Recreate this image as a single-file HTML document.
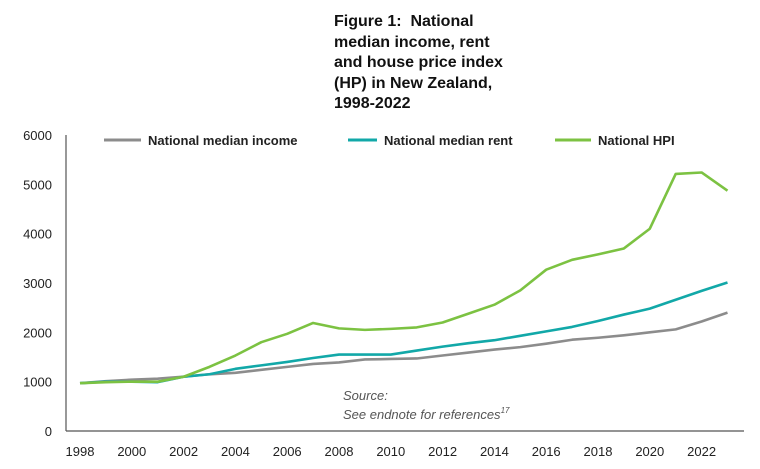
<!DOCTYPE html>
<html><head><meta charset="utf-8"><style>
body{margin:0;background:#fff;width:760px;height:469px;overflow:hidden;font-family:"Liberation Sans",sans-serif}
#title{position:absolute;left:334px;top:12px;width:220px;font-weight:bold;font-size:16px;line-height:20.5px;color:#111;white-space:nowrap}
</style></head><body>
<div id="title">Figure 1:&nbsp; National<br>median income, rent<br>and house price index<br>(HP) in New Zealand,<br>1998-2022</div>
<svg id="chart" width="760" height="469" style="position:absolute;left:0;top:0"></svg>
<script>
const years=[1998,1999,2000,2001,2002,2003,2004,2005,2006,2007,2008,2009,2010,2011,2012,2013,2014,2015,2016,2017,2018,2019,2020,2021,2022,2023];
const hpi=[970,990,1000,1000,1100,1300,1530,1800,1970,2190,2080,2050,2070,2100,2200,2380,2560,2850,3270,3470,3580,3700,4100,5210,5240,4870];
const rent=[970,1000,1000,990,1100,1150,1260,1330,1400,1480,1550,1550,1550,1630,1710,1780,1840,1930,2020,2110,2230,2360,2480,2660,2840,3010];
const income=[970,1010,1040,1060,1100,1150,1180,1240,1300,1360,1390,1450,1460,1470,1530,1590,1650,1700,1770,1850,1890,1940,2000,2060,2220,2400];
const yTicks=[0,1000,2000,3000,4000,5000,6000];
const xTicks=[1998,2000,2002,2004,2006,2008,2010,2012,2014,2016,2018,2020,2022];
const NS='http://www.w3.org/2000/svg';
const svg=document.getElementById('chart');
const X=v=>80+(v-1998)*25.9;
const Y=v=>431-v*296/6000;
function mk(t,a){const e=document.createElementNS(NS,t);for(const k in a)e.setAttribute(k,a[k]);svg.appendChild(e);return e;}
let ax=mk('line',{x1:66,y1:135,x2:66,y2:431,stroke:'#555','stroke-width':1.2});


ax=mk('line',{x1:66,y1:431,x2:744,y2:431,stroke:'#555','stroke-width':1.2});


yTicks.forEach(v=>{const t=mk('text',{x:52,y:Y(v)+5,'text-anchor':'end','font-size':13,fill:'#222'});t.textContent=v;

});
xTicks.forEach(v=>{const t=mk('text',{x:X(v),y:456,'text-anchor':'middle','font-size':13,fill:'#222'});t.textContent=v;

});
const series=[[income,'#8c8c8c','income-line'],[rent,'#12a8a8','rent-line'],[hpi,'#7cc242','hpi-line']];
series.forEach(([d,c,n])=>{const p=mk('polyline',{points:d.map((v,i)=>X(years[i])+','+Y(v)).join(' '),fill:'none',stroke:c,'stroke-width':2.6,'stroke-linejoin':'round'});

});
const leg=[['National median income','#8c8c8c',104,148],['National median rent','#12a8a8',348,384],['National HPI','#7cc242',555,598]];
leg.forEach(([l,c,x1,tx])=>{const g=mk('g',{});


const ln=document.createElementNS(NS,'line');ln.setAttribute('x1',x1);ln.setAttribute('x2',tx-7);ln.setAttribute('y1',140);ln.setAttribute('y2',140);ln.setAttribute('stroke',c);ln.setAttribute('stroke-width',3);g.appendChild(ln);
const t=document.createElementNS(NS,'text');t.setAttribute('x',tx);t.setAttribute('y',145);t.setAttribute('font-size',13);t.setAttribute('font-weight','bold');t.setAttribute('fill','#222');t.textContent=l;g.appendChild(t);});
const s1=mk('text',{x:343,y:400,'font-size':13,'font-style':'italic',fill:'#555'});s1.textContent='Source:';


const s2=mk('text',{x:343,y:419,'font-size':13,'font-style':'italic',fill:'#555'});s2.innerHTML='See endnote for references<tspan font-size="8" dy="-6">17</tspan>';


</script>
</body></html>
